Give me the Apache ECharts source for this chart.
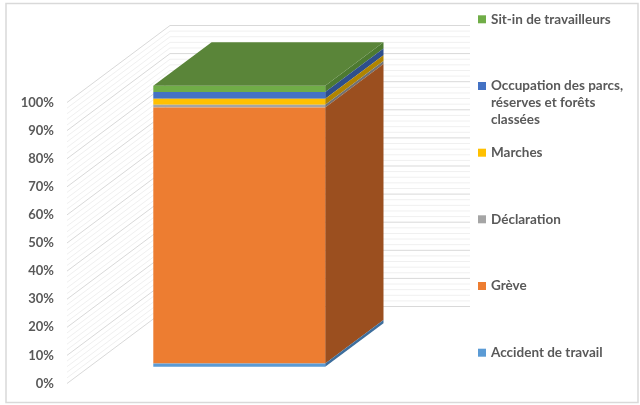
<!DOCTYPE html>
<html>
<head>
<meta charset="utf-8">
<script src="https://cdn.jsdelivr.net/npm/echarts@6/dist/echarts.min.js"></script>
<style>
html,body{margin:0;padding:0;background:#fff;}
#chart{width:640px;height:405px;}
</style>
</head>
<body>
<div id="chart"></div>
<script>
// ---- data ----
const categories = ['Total'];
const seriesNames = ['Accident de travail', 'Grève', 'Déclaration', 'Marches', 'Occupation des parcs, réserves et forêts classées', 'Sit-in de travailleurs'];
const seriesValues = [1.2, 91.1, 1.0, 2.1, 2.4, 2.2];
const yTicks = [0, 10, 20, 30, 40, 50, 60, 70, 80, 90, 100];
const legendLabels = ['Accident de travail', 'Grève', 'Déclaration', 'Marches', 'Occupation des parcs,\nréserves et forêts\nclassées', 'Sit-in de travailleurs'];

// ---- styles ----
const frontColors = ['#5B9BD5', '#ED7D31', '#A5A5A5', '#FFC000', '#4472C4', '#70AD47'];
const sideColors  = ['#3E6E9C', '#9B4F1F', '#727272', '#B08400', '#2E4F8C', '#4D7A31'];
const topColor = '#5A8539';
const DX = 103, DY = -77;     // wall depth projection
const D1 = 0.216, D2 = 0.782; // bar front / back depth
const BAR_FRAC = 0.573;
const legendCenters = [352.7, 286, 219.3, 152.7, 86, 19.3];
const LEG_FONT = 13.5, LEG_LH = 16.7;
const textFont = {color: '#595959', fontFamily: 'Lato', fontWeight: 'bold'};

const chart = echarts.init(document.getElementById('chart'), null, {renderer: 'canvas'});

// stacked bases derived from the values
const bases = [];
let acc = 0;
seriesValues.forEach((v) => { bases.push(acc); acc += v; });

function wallRender(params, api) {
  const v = api.value(0);
  const c = api.coord([0, v]);
  const band = api.size([1, 0])[0];
  const xL = c[0] - band / 2;
  const y = c[1];
  const major = (v % 10) === 0;
  return {
    type: 'polyline',
    shape: {points: [[xL, y], [xL + DX, y + DY], [xL + band + DX, y + DY]]},
    style: {fill: null, stroke: major ? '#d9d9d9' : '#f0f0f0', lineWidth: 1},
    silent: true
  };
}

function makeBarRender(idx, isTop) {
  return function (params, api) {
    const c0 = api.coord([api.value(0), api.value(1)]);
    const c1 = api.coord([api.value(0), api.value(2)]);
    const bw = api.size([1, 0])[0] * BAR_FRAC;
    const xl = c0[0] - bw / 2 + DX * D1;
    const xr = xl + bw;
    const yb = c0[1] + DY * D1;
    const yt = c1[1] + DY * D1;
    const ddx = DX * (D2 - D1), ddy = DY * (D2 - D1);
    const children = [
      {type: 'polygon', shape: {points: [[xr, yb], [xr, yt], [xr + ddx, yt + ddy], [xr + ddx, yb + ddy]]},
       style: {fill: sideColors[idx]}},
      {type: 'rect', shape: {x: xl, y: yt, width: bw, height: yb - yt},
       style: {fill: frontColors[idx]}}
    ];
    if (isTop) {
      children.push({type: 'polygon', shape: {points: [[xl, yt], [xr, yt], [xr + ddx, yt + ddy], [xl + ddx, yt + ddy]]},
        style: {fill: topColor}});
    }
    return {type: 'group', children: children};
  };
}

const minorTicks = [];
for (let v = yTicks[0]; v <= yTicks[yTicks.length - 1]; v += 2) minorTicks.push(v);

const series = [{
  type: 'custom',
  name: '_walls',
  data: minorTicks.map(v => [v]),
  renderItem: wallRender,
  silent: true,
  z: 1,
  encode: {y: 0}
}];
seriesNames.forEach((name, i) => {
  series.push({
    type: 'custom',
    name: name,
    data: [[0, bases[i], bases[i] + seriesValues[i]]],
    renderItem: makeBarRender(i, i === seriesNames.length - 1),
    itemStyle: {color: frontColors[i]},
    encode: {x: 0, y: [1, 2]},
    z: 2 + (seriesNames.length - i)
  });
});

const legends = seriesNames.map((name, i) => ({
  data: [name],
  orient: 'vertical',
  left: 478,
  top: legendCenters[i] - LEG_LH / 2,
  padding: 0,
  itemWidth: 8,
  itemHeight: 8,
  icon: 'rect',
  selectedMode: false,
  formatter: () => legendLabels[i].split('\n')[0],
  textStyle: Object.assign({fontSize: LEG_FONT, lineHeight: LEG_LH}, textFont)
}));

// extra lines of wrapped legend labels
const extraTexts = [];
legendLabels.forEach((lab, i) => {
  lab.split('\n').slice(1).forEach((line, k) => {
    extraTexts.push({
      type: 'text', left: 491, top: legendCenters[i] + LEG_LH * (k + 1) - LEG_LH / 2,
      style: Object.assign({text: line, font: 'bold ' + LEG_FONT + 'px Lato', fill: '#595959',
        lineHeight: LEG_LH, verticalAlign: 'top'}, {})
    });
  });
});

chart.setOption({
  animation: false,
  backgroundColor: '#ffffff',
  grid: {left: 67, width: 300, top: 102.5, height: 281},
  xAxis: {type: 'category', data: categories, show: false, boundaryGap: true},
  yAxis: {
    type: 'value', min: yTicks[0], max: yTicks[yTicks.length - 1], interval: yTicks[1] - yTicks[0],
    axisLine: {show: false}, axisTick: {show: false}, splitLine: {show: false},
    axisLabel: Object.assign({formatter: '{value}%', fontSize: 13, margin: 13}, textFont)
  },
  legend: legends,
  graphic: [{
    type: 'rect', shape: {x: 6, y: 3.5, width: 632, height: 399},
    style: {fill: null, stroke: '#d9d9d9', lineWidth: 1.5}, silent: true, z: 100
  }].concat(extraTexts),
  series: series
});
</script>
</body>
</html>
